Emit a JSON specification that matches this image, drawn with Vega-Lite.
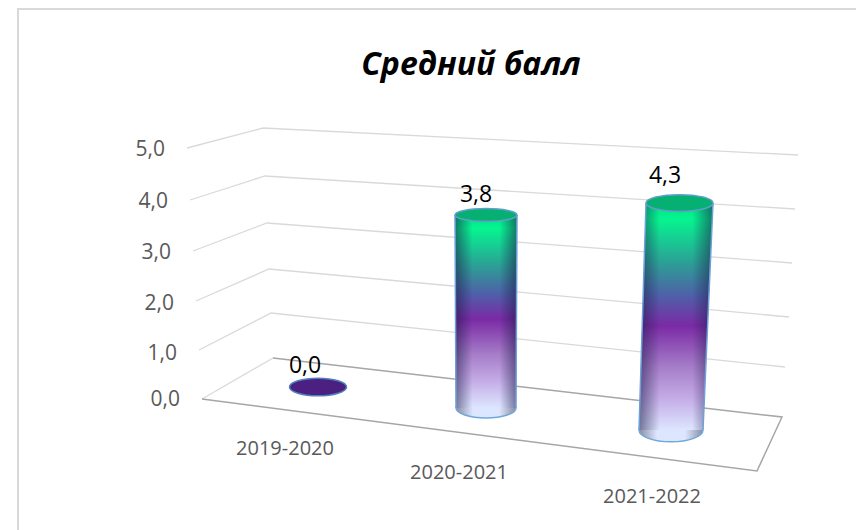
{
"$schema":"https://vega.github.io/schema/vega-lite/v6.json",
"width":838,"height":521,"autosize":"none","padding":{"left":18,"top":9,"right":0,"bottom":0},
"background":"white",
"config":{"view":{"stroke":null},"axis":{"disable":true}},
"datasets":{
"frame":[{"sx":18,"sy":9,"sx2":862,"sy2":536}],
"grid":[
{"level":5,"sx":187,"sy":148},{"level":5,"sx":263,"sy":128},{"level":5,"sx":798,"sy":155},
{"level":4,"sx":190,"sy":200},{"level":4,"sx":265,"sy":176},{"level":4,"sx":795,"sy":209},
{"level":3,"sx":193,"sy":251},{"level":3,"sx":267,"sy":223},{"level":3,"sx":792,"sy":263},
{"level":2,"sx":196,"sy":301},{"level":2,"sx":269,"sy":269},{"level":2,"sx":789,"sy":317},
{"level":1,"sx":199,"sy":350},{"level":1,"sx":271,"sy":313},{"level":1,"sx":785,"sy":367},
{"level":0,"sx":202,"sy":399},{"level":0,"sx":273,"sy":358}],
"floor":[{"seq":1,"sx":273,"sy":358},{"seq":2,"sx":782,"sy":417},{"seq":3,"sx":757,"sy":471},{"seq":4,"sx":202,"sy":399}],
"ticks":[{"label":"0,0","sx":180,"sy":400},{"label":"1,0","sx":177,"sy":354},{"label":"2,0","sx":174,"sy":304},{"label":"3,0","sx":171,"sy":253},{"label":"4,0","sx":168,"sy":202},{"label":"5,0","sx":165,"sy":150}],
"cats":[{"label":"2019-2020","sx":285,"sy":449},{"label":"2020-2021","sx":459,"sy":473},{"label":"2021-2022","sx":652,"sy":497}],
"values":[{"label":"0,0","sx":305,"sy":366},{"label":"3,8","sx":476,"sy":195},{"label":"4,3","sx":665,"sy":176}],
"bars":[
{"year":"2020-2021","sx":455,"sx2":517,"sy":215},{"year":"2020-2021","sx":456,"sx2":516,"sy":408},
{"year":"2021-2022","sx":646,"sx2":713,"sy":203},{"year":"2021-2022","sx":639,"sx2":703,"sy":430}],
"caps":[
{"cap":"d1","sx":318,"sy":387},
{"cap":"t2","sx":486,"sy":215},{"cap":"b2","sx":486,"sy":408},
{"cap":"t3","sx":679.5,"sy":203},{"cap":"b3","sx":671,"sy":430}]
},
"encoding":{
"x":{"field":"sx","type":"quantitative","scale":{"domain":[18,856],"range":[0,838]},"axis":null},
"y":{"field":"sy","type":"quantitative","scale":{"domain":[9,530],"range":[0,521]},"axis":null}
},
"layer":[
{"data":{"name":"frame"},"mark":{"type":"rect","fill":"white","stroke":"#d9d9d9","strokeWidth":2},"encoding":{"x2":{"field":"sx2"},"y2":{"field":"sy2"}}},
{"data":{"name":"grid"},"mark":{"type":"line","color":"#d9d9d9","strokeWidth":1.3},"encoding":{"detail":{"field":"level"},"order":{"field":"sx"}}},
{"data":{"name":"floor"},"mark":{"type":"line","color":"#a6a6a6","strokeWidth":1.5},"encoding":{"order":{"field":"seq"}}},
{"data":{"name":"caps"},"transform":[{"filter":"datum.cap=='b2'"}],"mark":{"type":"point","filled":true,"fill":{"gradient":"linear","x1":0,"y1":0,"x2":1,"y2":0,"stops":[{"offset":0,"color":"#8a8a9e"},{"offset":0.28,"color":"#dde6ff"},{"offset":0.72,"color":"#dde6ff"},{"offset":1,"color":"#8a8a9e"}]},"stroke":"#6fa8dc","strokeWidth":1.5,"opacity":1,"size":3600,"shape":"M-1,0A1,0.33,0,1,0,1,0A1,0.33,0,1,0,-1,0Z"}},
{"data":{"name":"caps"},"transform":[{"filter":"datum.cap=='b3'"}],"mark":{"type":"point","filled":true,"fill":{"gradient":"linear","x1":0,"y1":0,"x2":1,"y2":0,"stops":[{"offset":0,"color":"#8a8a9e"},{"offset":0.28,"color":"#dde6ff"},{"offset":0.72,"color":"#dde6ff"},{"offset":1,"color":"#8a8a9e"}]},"stroke":"#6fa8dc","strokeWidth":1.5,"opacity":1,"size":4096,"shape":"M-1,0A1,0.37,0,1,0,1,0A1,0.37,0,1,0,-1,0Z"}},
{"data":{"name":"bars"},"mark":{"type":"area","orient":"horizontal","opacity":1,"fill":{"gradient":"linear","x1":0,"y1":0,"x2":0,"y2":1,"stops":[{"offset":0,"color":"#00e088"},{"offset":0.07,"color":"#05f58f"},{"offset":0.27,"color":"#2d9c96"},{"offset":0.41,"color":"#4f5fa8"},{"offset":0.54,"color":"#7a2aa5"},{"offset":0.72,"color":"#a57cc8"},{"offset":0.85,"color":"#c2a8e4"},{"offset":1,"color":"#dde6ff"}]}},"encoding":{"x":{"field":"sx","type":"quantitative","stack":null},"x2":{"field":"sx2"},"detail":{"field":"year"}}},
{"data":{"name":"bars"},"mark":{"type":"area","orient":"horizontal","opacity":1,"fill":{"gradient":"linear","x1":0,"y1":0,"x2":1,"y2":0,"stops":[{"offset":0,"color":"rgba(25,25,70,0.55)"},{"offset":0.28,"color":"rgba(25,25,70,0)"},{"offset":0.72,"color":"rgba(25,25,70,0)"},{"offset":1,"color":"rgba(25,25,70,0.55)"}]}},"encoding":{"x":{"field":"sx","type":"quantitative","stack":null},"x2":{"field":"sx2"},"detail":{"field":"year"}}},
{"data":{"name":"bars"},"mark":{"type":"line","color":"#6fa0d8","strokeWidth":1.5},"encoding":{"detail":{"field":"year"},"order":{"field":"sy"}}},
{"data":{"name":"bars"},"mark":{"type":"line","color":"#6fa0d8","strokeWidth":1.5},"encoding":{"x":{"field":"sx2","type":"quantitative"},"detail":{"field":"year"},"order":{"field":"sy"}}},
{"data":{"name":"caps"},"transform":[{"filter":"datum.cap=='t2'"}],"mark":{"type":"point","filled":true,"fill":"#06b073","stroke":"#5f9fc8","strokeWidth":1.5,"opacity":1,"size":3844,"shape":"M-1,0A1,0.21,0,1,0,1,0A1,0.21,0,1,0,-1,0Z"}},
{"data":{"name":"caps"},"transform":[{"filter":"datum.cap=='t3'"}],"mark":{"type":"point","filled":true,"fill":"#06b073","stroke":"#5f9fc8","strokeWidth":1.5,"opacity":1,"size":4489,"shape":"M-1,0A1,0.25,0,1,0,1,0A1,0.25,0,1,0,-1,0Z"}},
{"data":{"name":"caps"},"transform":[{"filter":"datum.cap=='d1'"}],"mark":{"type":"point","filled":true,"fill":"#4b2080","stroke":"#4f81bd","strokeWidth":1.5,"opacity":1,"size":3249,"shape":"M-1,0A1,0.31,0,1,0,1,0A1,0.31,0,1,0,-1,0Z"}},
{"data":{"name":"ticks"},"mark":{"type":"text","align":"right","baseline":"middle","font":"Open Sans","fontSize":21,"color":"#595959"},"encoding":{"text":{"field":"label"}}},
{"data":{"name":"cats"},"mark":{"type":"text","align":"center","baseline":"middle","font":"Open Sans","fontSize":20,"color":"#595959"},"encoding":{"text":{"field":"label"}}},
{"data":{"name":"values"},"mark":{"type":"text","align":"center","baseline":"middle","font":"Open Sans","fontSize":23,"color":"#000000"},"encoding":{"text":{"field":"label"}}},
{"data":{"values":[{"label":"Средний балл","sx":471,"sy":65}]},"mark":{"type":"text","align":"center","baseline":"middle","font":"Open Sans","fontSize":32,"fontWeight":"bold","fontStyle":"italic","color":"#000000"},"encoding":{"text":{"field":"label"}}}
]
}
